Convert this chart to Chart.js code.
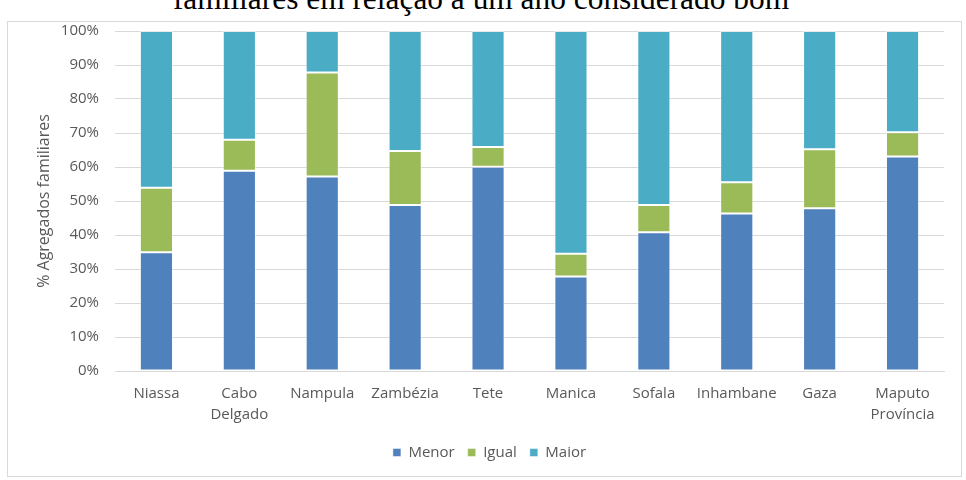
<!DOCTYPE html>
<html>
<head>
<meta charset="utf-8">
<script src="https://cdn.jsdelivr.net/npm/chart.js@4.4.1/dist/chart.umd.min.js"></script>
<style>
  html, body { margin: 0; padding: 0; background: #ffffff; }
  #wrap { position: relative; width: 966px; height: 480px; overflow: hidden; }
  #frame { position: absolute; left: 7px; top: 21px; width: 955px; height: 456px;
           border: 1px solid #d9d9d9; box-sizing: border-box; pointer-events: none; }
  #heading { position: absolute; left: 0; width: 962px; top: -17px; text-align: center;
             font-family: "Liberation Serif", "Times New Roman", serif; font-size: 31.4px;
             line-height: 32px; color: #000; white-space: nowrap; }
  canvas { position: absolute; left: 0; top: 0; }
</style>
</head>
<body>
<div id="wrap">
  <div id="heading">familiares em relação a um ano considerado bom</div>
  <div id="frame"></div>
  <canvas id="chart" width="966" height="480"></canvas>
</div>
<script>
// Provinces (category axis)
const provinces = ['Niassa', ['Cabo', 'Delgado'], 'Nampula', 'Zambézia', 'Tete', 'Manica',
                   'Sofala', 'Inhambane', 'Gaza', ['Maputo', 'Província']];

// Share of households (%) per answer
const menor = [34.9, 58.9, 57.2, 48.8, 60.1, 27.8, 40.8, 46.3, 47.9, 63.1];
const igual = [19.0, 9.1, 30.6, 15.9, 5.8, 6.7, 8.0, 9.2, 17.3, 7.1];
const maior = [46.1, 32.0, 12.2, 35.3, 34.1, 65.5, 51.2, 44.5, 34.8, 29.8];

const yTicks = [0, 10, 20, 30, 40, 50, 60, 70, 80, 90, 100];

const FONT = '"Open Sans", "Noto Sans", sans-serif';
const TEXT = '#595959';
const GRID = '#d9d9d9';

function series(label, data, color) {
  return {
    label, data,
    backgroundColor: color,
    borderColor: 'rgba(255,255,255,0.45)',
    borderWidth: 1,
    borderSkipped: false,
    barPercentage: 0.4,
    categoryPercentage: 1.0
  };
}

new Chart(document.getElementById('chart'), {
  type: 'bar',
  data: {
    labels: provinces,
    datasets: [
      series('Menor', menor, '#4f81bd'),
      series('Igual', igual, '#9bbb59'),
      series('Maior', maior, '#4bacc6')
    ]
  },
  options: {
    responsive: false,
    animation: false,
    layout: { padding: { left: 35, right: 22, top: 31, bottom: 10 } },
    plugins: {
      tooltip: { enabled: false },
      legend: {
        position: 'bottom',
        labels: {
          boxWidth: 8, boxHeight: 8, padding: 13,
          color: TEXT, font: { family: FONT, size: 15 }
        }
      }
    },
    scales: {
      x: {
        stacked: true,
        grid: { display: false },
        border: { display: true, color: GRID, width: 1 },
        ticks: {
          color: TEXT, font: { family: FONT, size: 15, lineHeight: 1.4 },
          padding: 4, maxRotation: 0, autoSkip: false
        },
        afterFit(scale) { scale.height = 61; }
      },
      y: {
        stacked: true,
        min: 0, max: 100,
        afterBuildTicks(scale) { scale.ticks = yTicks.map(v => ({ value: v })); },
        grid: { color: GRID, lineWidth: 1, drawTicks: false },
        border: { display: false },
        ticks: {
          color: TEXT, font: { family: FONT, size: 15 }, padding: 16,
          callback: v => v + '%'
        },
        title: {
          display: true, text: '% Agregados familiares',
          color: TEXT, font: { family: FONT, size: 16 }, padding: 0
        },
        afterFit(scale) { scale.width = 80; }
      }
    }
  }
});
</script>
</body>
</html>
